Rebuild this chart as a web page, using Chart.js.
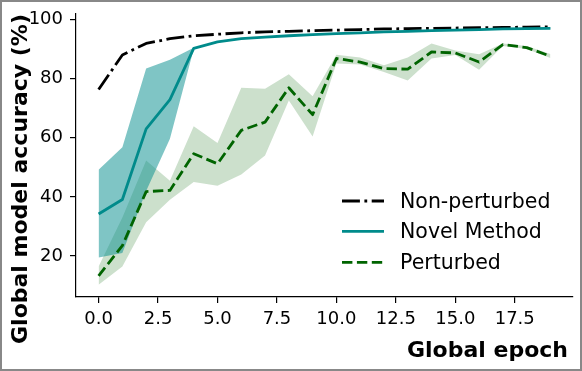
<!DOCTYPE html>
<html>
<head>
<meta charset="utf-8">
<script src="https://cdn.jsdelivr.net/npm/chart.js@4.4.0/dist/chart.umd.min.js"></script>
<style>
    html, body { margin: 0; padding: 0; background: #fff; }
    canvas { display: block; }
</style>
</head>
<body>
<canvas id="accChart" width="582" height="371"></canvas>
<script>
// Data
const epochs = [0, 1, 2, 3, 4, 5, 6, 7, 8, 9, 10, 11, 12, 13, 14, 15, 16, 17, 18, 19];
const nonPerturbed = [76.3, 88.0, 91.9, 93.5, 94.5, 95.0, 95.5, 95.8, 96.0, 96.2, 96.4, 96.6, 96.8, 96.9, 97.0, 97.1, 97.2, 97.3, 97.4, 97.5];
const novelMean = [34.2, 39.1, 63.0, 72.9, 90.2, 92.4, 93.5, 94.0, 94.5, 94.9, 95.2, 95.5, 95.8, 96.0, 96.2, 96.4, 96.6, 96.8, 96.9, 97.0];
const novelUpper = [49.2, 56.8, 83.4, 86.4, 90.4, 92.6, 93.7, 94.2, 94.7, 95.1, 95.4, 95.7, 96.0, 96.2, 96.4, 96.6, 96.8, 97.0, 97.1, 97.2];
const novelLower = [19.5, 21.0, 42.0, 59.7, 90.0, 92.2, 93.3, 93.8, 94.3, 94.7, 95.0, 95.3, 95.6, 95.8, 96.0, 96.2, 96.4, 96.6, 96.7, 96.8];
const perturbedMean = [13.3, 23.5, 41.8, 42.2, 54.6, 51.2, 62.5, 65.3, 76.9, 67.8, 86.8, 85.6, 83.4, 83.2, 89.0, 88.7, 85.6, 91.5, 90.5, 87.6];
const perturbedUpper = [16.5, 33.0, 52.3, 45.5, 63.9, 58.2, 76.9, 76.6, 81.5, 74.0, 88.1, 87.1, 84.5, 87.1, 91.9, 89.5, 88.2, 91.9, 91.0, 88.3];
const perturbedLower = [10.3, 16.5, 31.4, 39.0, 45.0, 43.8, 47.6, 54.0, 72.6, 60.4, 85.1, 84.8, 82.2, 79.4, 86.8, 88.0, 83.0, 91.0, 90.0, 87.0];
const xTicks = [0, 2.5, 5, 7.5, 10, 12.5, 15, 17.5];
const yTicks = [20, 40, 60, 80, 100];

const FONT = '"DejaVu Sans", sans-serif';
const dashDot = [17.9, 4.5, 2.8, 4.5];
const dashed = [10.4, 4.5];

function points(values) {
    return epochs.map((e, i) => ({ x: e, y: values[i] }));
}

// Legend, axis titles and outer frame
const decorations = {
    id: 'decorations',
    afterDraw(chart) {
        const ctx = chart.ctx;
        ctx.save();
        ctx.fillStyle = '#000';
        ctx.font = 'bold 22px ' + FONT;
        ctx.textBaseline = 'alphabetic';
        ctx.textAlign = 'right';
        ctx.fillText('Global epoch', 568, 356.5);

        ctx.save();
        ctx.translate(27, 179);
        ctx.rotate(-Math.PI / 2);
        ctx.textAlign = 'center';
        ctx.fillText('Global model accuracy (%)', 0, 0);
        ctx.restore();

        const items = [
            { label: 'Non-perturbed', color: '#000000', dash: dashDot, y: 201 },
            { label: 'Novel Method', color: '#008b8b', dash: [], y: 231.3 },
            { label: 'Perturbed', color: '#006400', dash: dashed, y: 262.3 }
        ];
        ctx.font = '20.5px ' + FONT;
        ctx.textAlign = 'left';
        items.forEach(item => {
            ctx.beginPath();
            ctx.setLineDash(item.dash);
            ctx.strokeStyle = item.color;
            ctx.lineWidth = 2.8;
            ctx.moveTo(342, item.y);
            ctx.lineTo(384, item.y);
            ctx.stroke();
            ctx.fillText(item.label, 400, item.y + 6.5);
        });

        ctx.setLineDash([]);
        ctx.strokeStyle = '#888';
        ctx.lineWidth = 2;
        ctx.strokeRect(1, 1, 580, 369);
        ctx.restore();
    }
};

const ctx = document.getElementById('accChart').getContext('2d');
const accChart = new Chart(ctx, {
    type: 'line',
    data: {
        datasets: [{
            label: 'Perturbed',
            data: points(perturbedMean),
            borderColor: '#006400',
            borderWidth: 2.8,
            borderDash: dashed,
            order: 0
        }, {
            label: 'Novel Method',
            data: points(novelMean),
            borderColor: '#008b8b',
            borderWidth: 2.8,
            order: 1
        }, {
            label: 'Non-perturbed',
            data: points(nonPerturbed),
            borderColor: '#000000',
            borderWidth: 2.8,
            borderDash: dashDot,
            order: 2
        }, {
            label: 'Novel upper',
            data: points(novelUpper),
            borderColor: 'transparent',
            borderWidth: 0,
            backgroundColor: 'rgba(0, 139, 139, 0.5)',
            fill: '+1',
            order: 3
        }, {
            label: 'Novel lower',
            data: points(novelLower),
            borderColor: 'transparent',
            borderWidth: 0,
            fill: false,
            order: 4
        }, {
            label: 'Perturbed upper',
            data: points(perturbedUpper),
            borderColor: 'transparent',
            borderWidth: 0,
            backgroundColor: 'rgba(0, 100, 0, 0.2)',
            fill: '+1',
            order: 5
        }, {
            label: 'Perturbed lower',
            data: points(perturbedLower),
            borderColor: 'transparent',
            borderWidth: 0,
            fill: false,
            order: 6
        }]
    },
    options: {
        responsive: false,
        animation: false,
        events: [],
        elements: {
            point: { radius: 0 },
            line: { tension: 0, borderJoinStyle: 'round' }
        },
        layout: {
            padding: { top: 14, right: 9, left: 0, bottom: 0 }
        },
        scales: {
            x: {
                type: 'linear',
                min: -0.95,
                max: 19.95,
                afterBuildTicks: scale => { scale.ticks = xTicks.map(v => ({ value: v })); },
                afterFit: scale => { scale.height = 74; },
                ticks: {
                    color: '#000',
                    font: { family: FONT, size: 18 },
                    padding: 6,
                    maxRotation: 0,
                    autoSkip: false,
                    callback: v => v.toFixed(1)
                },
                grid: { drawOnChartArea: false, drawTicks: true, tickLength: 6, color: '#000', lineWidth: 1.2 },
                border: { display: true, color: '#000', width: 1.2 }
            },
            y: {
                min: 6.15,
                max: 101.85,
                afterBuildTicks: scale => { scale.ticks = yTicks.map(v => ({ value: v })); },
                afterFit: scale => {
                    // fixed axis width; let layout padding alone decide the top edge
                    scale.width = 76;
                    scale.paddingTop = 0;
                    scale.paddingBottom = 0;
                },
                ticks: {
                    color: '#000',
                    font: { family: FONT, size: 18 },
                    padding: 7,
                    callback: v => String(v)
                },
                grid: { drawOnChartArea: false, drawTicks: true, tickLength: 6, color: '#000', lineWidth: 1.2 },
                border: { display: true, color: '#000', width: 1.2 }
            }
        },
        plugins: {
            legend: { display: false },
            tooltip: { enabled: false },
            title: { display: false }
        }
    },
    plugins: [decorations]
});
</script>
</body>
</html>
